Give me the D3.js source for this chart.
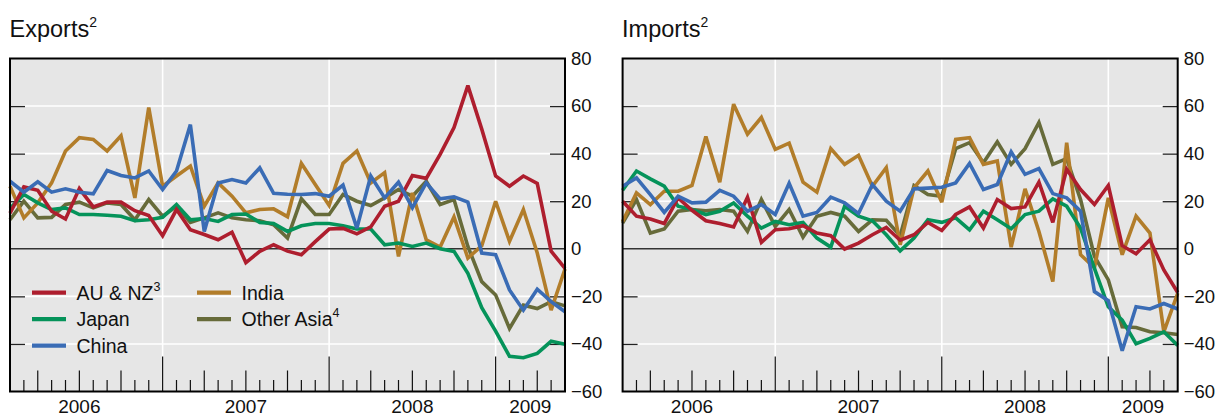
<!DOCTYPE html>
<html>
<head>
<meta charset="utf-8">
<script src="https://cdn.jsdelivr.net/npm/d3@7"></script>
<style>
  html, body { margin: 0; padding: 0; background: #fff; }
  svg { display: block; font-family: "Liberation Sans", Arial, Helvetica, sans-serif; }
</style>
</head>
<body>
<svg id="chart" width="1219" height="417"></svg>
<script>
// ---- data (monthly, Feb 2006 .. Jun 2009 positions; percent change) ----
const yearLabels = ["2006", "2007", "2008", "2009"];
const yTicks = [-60, -40, -20, 0, 20, 40, 60, 80];
const seriesNames = ["AU & NZ", "Japan", "China", "India", "Other Asia"];
const seriesSup = ["3", "", "", "", "4"];

const exportsAUNZ = [15, 26, 24.6, 15.8, 12.5, 25.3, 17.6, 19.6, 19.6, 16, 14, 5.5, 16.5, 8, 6, 3.8, 7, -5.8, -1.1, 1.7, -1, -2.5, 3, 8.3, 8.6, 6.3, 9.2, 17.9, 20, 30.8, 29.6, 39.7, 51, 68.6, 50.3, 30.6, 26.3, 30.6, 27.5, -1, -8.2];
const exportsJapan = [17, 22.8, 19.3, 16.5, 17.2, 14.4, 14.4, 14.1, 13.7, 11.8, 12.2, 13.2, 18.6, 12.2, 12.7, 11.5, 14.4, 14.6, 11.1, 10.6, 7.3, 9.7, 10.6, 10.6, 9.7, 8.3, 8.3, 1.7, 2.4, 1, 2.4, 0, -1.1, -10.3, -24.8, -34.6, -45.2, -45.8, -44, -38.9, -40.1];
const exportsChina = [28.4, 23.8, 28.2, 23.8, 25.2, 23.8, 23.1, 32.9, 30.8, 29.8, 32.7, 24.9, 32.7, 52.2, 7.3, 27.7, 29.1, 27.7, 34, 23.3, 22.9, 22.8, 23.2, 22.1, 26.8, 8.7, 30.6, 21.4, 28, 17.2, 27.7, 21, 21.8, 19.6, -1.8, -2.5, -17.3, -25.8, -17, -22.2, -26.5];
const exportsIndia = [26.3, 13, 19.3, 27.7, 41.1, 46.7, 46, 41.1, 47.5, 21.4, 59.4, 26.3, 30.6, 34.8, 17.9, 27.7, 22.1, 15.1, 16.5, 16.8, 13.5, 35.9, 27, 18.2, 35.9, 41.1, 27.7, 32, -3.2, 23.5, 3.8, 0.7, 13.4, -3.9, 1.3, 20, 3.1, 16.5, -1.8, -25.8, -8.5];
const exportsOtherAsia = [12.2, 20, 13, 13.2, 18.6, 19.6, 17.2, 19.3, 18.6, 12.2, 20.7, 13.7, 17.9, 11.1, 13, 15.1, 13, 12.2, 11.8, 10.1, 4.5, 21, 14.4, 14.4, 22.8, 20, 18.2, 21.4, 24.9, 22.1, 28.4, 18.6, 20.7, 1, -13.8, -19.4, -33.5, -23.7, -25.1, -22.2, -24];

const importsAUNZ = [20, 13.7, 12.5, 10.6, 21.4, 16.2, 11.8, 10.6, 9.2, 21.7, 2.7, 8, 8.4, 9.7, 6.6, 5.5, -0.1, 2.4, 5.9, 9, 3.6, 5.9, 11.1, 7.7, 14.4, 17.6, 8.7, 20.7, 16.9, 17.6, 28, 11.1, 33.4, 24.9, 18.6, 26.6, 1.3, -2.1, 3.8, -8.9, -18.4];
const importsJapan = [24.6, 32.7, 29.4, 26.3, 17.9, 16.5, 14.4, 15.8, 19.3, 13.7, 8.7, 11.5, 10.1, 11.1, 4.5, 0.7, 17.9, 13.7, 11.8, 5.9, -0.9, 4.5, 12.2, 11.1, 13, 8, 15.8, 12.2, 8.4, 14.4, 15.8, 21, 17.9, 8.7, -8.2, -24.4, -30, -39.9, -37.7, -34.9, -40.6];
const importsChina = [26.3, 29.8, 22.8, 15.3, 22.1, 19.3, 19.6, 24.6, 22.1, 15.8, 18.6, 14.4, 27.5, 13.7, 15.3, 21.7, 19.3, 14.8, 27, 20, 15.8, 25.2, 25.5, 25.9, 27.7, 35.9, 24.9, 27, 40.7, 31.3, 33.7, 23.2, 21.4, 15.8, -18, -21.8, -42.9, -24.4, -25.3, -23, -25.3];
const importsIndia = [11.5, 23.5, 18.6, 24.2, 24.2, 26.6, 47.2, 28, 60.8, 48.2, 55.2, 41.8, 44.4, 28, 23.8, 42.1, 35.5, 39.3, 26.3, 34.1, 1.7, 25.6, 32.7, 19.6, 46, 46.7, 35.5, 36.9, 0.7, 25.2, 7.3, -13.8, 44.6, -2.5, -8, 21.4, -2.5, 13.7, 6.6, -34.9, -18.7];
const importsOtherAsia = [10.8, 20.7, 6.6, 8.3, 15.8, 16.5, 16, 16.5, 15.8, 7.3, 20.7, 9.4, 16.5, 4.9, 13.7, 15.3, 13.7, 7.3, 12.2, 12, 5.5, 26.6, 22.8, 22.1, 42.1, 44.6, 36.2, 45, 35.5, 42.1, 53.1, 35.5, 37.9, 20.7, -3.2, -13.1, -32.8, -33.1, -34.9, -35.3, -36];

const colors = ["#AE1E2E", "#05935A", "#3A6CB5", "#B27D2A", "#676B3A"];

const panels = [
  { title: "Exports", sup: "2", x0: 10, x1: 565,
    series: [exportsAUNZ, exportsJapan, exportsChina, exportsIndia, exportsOtherAsia], legend: true },
  { title: "Imports", sup: "2", x0: 622.6, x1: 1177.7,
    series: [importsAUNZ, importsJapan, importsChina, importsIndia, importsOtherAsia], legend: false }
];

const plotTop = 58.5, plotBottom = 391.5;
const nPts = exportsAUNZ.length; // 41 monthly positions, index 0 = Feb 2006
const drawOrder = [4, 3, 1, 0, 2];

const svg = d3.select("#chart");

panels.forEach(p => {
  const g = svg.append("g");
  const x = d3.scaleLinear().domain([0, nPts - 1]).range([p.x0, p.x1]);
  const y = d3.scaleLinear().domain([-60, 80]).range([plotBottom, plotTop]);

  // background
  g.append("rect").attr("x", p.x0).attr("y", plotTop)
    .attr("width", p.x1 - p.x0).attr("height", plotBottom - plotTop).attr("fill", "#E6E6E6");

  // horizontal white gridlines
  g.selectAll(".hgrid").data(yTicks.filter(v => v !== 0 && v !== 80 && v !== -60))
    .join("line")
    .attr("x1", p.x0).attr("x2", p.x1)
    .attr("y1", d => y(d)).attr("y2", d => y(d))
    .attr("stroke", "#fff").attr("stroke-width", 1.6);

  // vertical white gridlines at year boundaries (Jan = index 11, 23, 35)
  const yearIdx = d3.range(1, nPts - 1).filter(i => (i + 1) % 12 === 0);
  g.selectAll(".vgrid").data(yearIdx).join("line")
    .attr("x1", d => x(d)).attr("x2", d => x(d))
    .attr("y1", plotTop).attr("y2", plotBottom)
    .attr("stroke", "#fff").attr("stroke-width", 1.6);

  // zero line
  g.append("line").attr("x1", p.x0).attr("x2", p.x1)
    .attr("y1", y(0)).attr("y2", y(0))
    .attr("stroke", "#333").attr("stroke-width", 1.5);

  // inward y ticks on both sides
  const tickVals = [-40, -20, 20, 40, 60];
  const leftAx = g.append("g").attr("transform", `translate(${p.x0},0)`)
    .call(d3.axisRight(y).tickValues(tickVals).tickSize(15).tickFormat(""));
  const rightAx = g.append("g").attr("transform", `translate(${p.x1},0)`)
    .call(d3.axisLeft(y).tickValues(tickVals).tickSize(15).tickFormat(""));
  [leftAx, rightAx].forEach(a => {
    a.select(".domain").remove();
    a.selectAll(".tick line").attr("stroke", "#222").attr("stroke-width", 1.3);
  });

  // month ticks rising from the bottom
  const mIdx = d3.range(1, nPts - 1);
  g.selectAll(".mtick").data(mIdx).join("line")
    .attr("x1", d => x(d)).attr("x2", d => x(d))
    .attr("y1", plotBottom)
    .attr("y2", d => {
      const m = (d + 1) % 12;
      if (m === 0) return plotBottom - 35;
      if (m % 3 === 0) return plotBottom - 21;
      return plotBottom - 11.5;
    })
    .attr("stroke", "#111").attr("stroke-width", 1.2);

  // series lines
  const line = d3.line().x((d, i) => x(i)).y(d => y(d));
  drawOrder.forEach(k => {
    g.append("path").datum(p.series[k])
      .attr("d", line)
      .attr("fill", "none")
      .attr("stroke", colors[k])
      .attr("stroke-width", 3.6)
      .attr("stroke-linejoin", "miter")
      .attr("stroke-miterlimit", 3);
  });

  // frame
  g.append("path")
    .attr("d", `M${p.x0},${plotBottom} L${p.x0},${plotTop} L${p.x1},${plotTop} L${p.x1},${plotBottom} Z`)
    .attr("fill", "none").attr("stroke", "#000").attr("stroke-width", 2);

  // right-side y labels
  const lab = g.append("g").attr("transform", `translate(${p.x1},0)`)
    .call(d3.axisRight(y).tickValues(yTicks).tickSize(0).tickPadding(6));
  lab.select(".domain").remove();
  lab.selectAll("text").attr("font-size", 18.5).attr("fill", "#111")
    .attr("font-family", "'Liberation Sans', Arial, Helvetica, sans-serif");

  // year labels
  const yearCenters = [5, 17, 29, 37.5];
  g.selectAll(".ylab").data(yearLabels).join("text")
    .attr("x", (d, i) => x(yearCenters[i]))
    .attr("y", 413)
    .attr("text-anchor", "middle")
    .attr("font-size", 19).attr("fill", "#111")
    .text(d => d);

  // title
  const t = g.append("text").attr("x", p.x0 - 0.5).attr("y", 37)
    .attr("font-size", 23.5).attr("fill", "#111");
  t.append("tspan").text(p.title);
  t.append("tspan").attr("dy", -10).attr("font-size", 14).text(p.sup);

  // legend
  if (p.legend) {
    const items = [
      { k: 0, col: 0, row: 0 }, { k: 1, col: 0, row: 1 }, { k: 2, col: 0, row: 2 },
      { k: 3, col: 1, row: 0 }, { k: 4, col: 1, row: 1 }
    ];
    const lx = [32, 197], ly = [292.7, 319.2, 345.7];
    items.forEach(it => {
      const gx = lx[it.col], gy = ly[it.row];
      g.append("line").attr("x1", gx).attr("x2", gx + 34)
        .attr("y1", gy).attr("y2", gy)
        .attr("stroke", colors[it.k]).attr("stroke-width", 4.2);
      const tx = g.append("text").attr("x", gx + 44.5).attr("y", gy + 6.8)
        .attr("font-size", 19.5).attr("fill", "#111");
      tx.append("tspan").text(seriesNames[it.k]);
      if (seriesSup[it.k]) tx.append("tspan").attr("dy", -9).attr("font-size", 12.5).text(seriesSup[it.k]);
    });
  }
});
</script>
</body>
</html>
